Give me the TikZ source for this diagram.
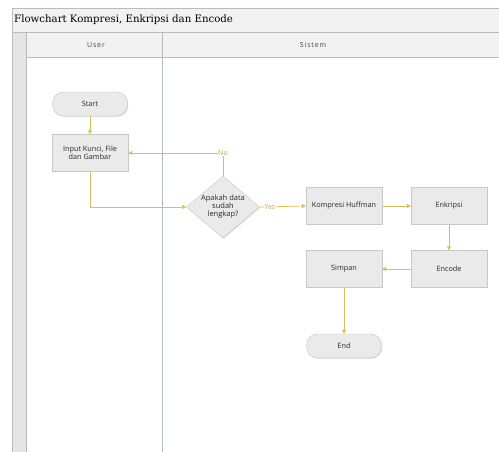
\documentclass[tikz,border=0pt]{standalone}
\usepackage{fontspec}
\setmainfont{DejaVu Serif}
\newfontfamily\nodefont{Open Sans}
\newfontfamily\hdrfont[LetterSpace=12]{Open Sans}
\usetikzlibrary{shapes.geometric,arrows.meta,shadows}
\definecolor{conn}{RGB}{218,188,88}
\definecolor{nfill}{RGB}{234,234,234}
\definecolor{nborder}{RGB}{200,200,200}
\definecolor{lanebord}{RGB}{180,190,186}
\definecolor{hdrfill}{RGB}{242,242,242}
\definecolor{txt}{RGB}{40,40,40}
\definecolor{lbltxt}{RGB}{190,165,90}
\tikzset{
  every node/.style={inner sep=1pt},
  proc/.style={rectangle, draw=nborder, fill=nfill, minimum width=76pt, minimum height=37pt,
    font=\nodefont\fontsize{7.3}{8.5}\selectfont, text=txt, align=center,
    drop shadow={shadow xshift=0.8pt, shadow yshift=-0.8pt, opacity=0.25}},
  term/.style={rectangle, rounded corners=11pt, draw=nborder, fill=nfill, minimum width=75pt, minimum height=24pt,
    font=\nodefont\fontsize{7.3}{8.5}\selectfont, text=txt,
    drop shadow={shadow xshift=0.8pt, shadow yshift=-0.8pt, opacity=0.25}},
  decis/.style={diamond, draw=nborder, fill=nfill, minimum width=73pt, minimum height=62pt, aspect=1.18, inner sep=0pt,
    font=\nodefont\fontsize{7.5}{8}\selectfont, text=txt, align=center,
    drop shadow={shadow xshift=0.8pt, shadow yshift=-0.8pt, opacity=0.25}},
  flow/.style={draw=conn, line width=0.7pt, -{Triangle[length=4pt,width=4pt]}},
  lbl/.style={font=\nodefont\fontsize{7}{8}\selectfont, text=lbltxt, fill=white, inner sep=0.5pt},
  hdr/.style={font=\hdrfont\fontsize{7}{8}\selectfont, text=black!75},
}
\begin{document}
\begin{tikzpicture}[x=1pt,y=-1pt]
\useasboundingbox (0,0) rectangle (499,452);
\fill[white] (0,0) rectangle (499,452);
% title bar
\filldraw[fill=hdrfill, draw=lanebord] (12,8) rectangle (505,32);
\node[anchor=west, font=\fontsize{10.2}{12}\selectfont] (title) at (13,20) {Flowchart Kompresi, Enkripsi dan Encode};
% header row
\filldraw[fill=hdrfill, draw=lanebord] (26,32) rectangle (505,57);
\draw[lanebord] (162,32) -- (162,460);
% left strip
\filldraw[fill=black!10, draw=lanebord] (12,32) rectangle (26,460);
\draw[lanebord] (26,57) -- (26,460);
\node[hdr] (huser) at (96,45) {User};
\node[hdr] (hsis) at (313,45) {Sistem};
% nodes
\node[term] (start) at (90,104) {Start};
\node[proc] (input) at (90,153) {Input Kunci, File\\dan Gambar};
\node[decis] (dec) at (223,207) {Apakah data\\sudah\\lengkap?};
\node[proc] (komp) at (344,206) {Kompresi Huffman};
\node[proc] (enk) at (449,206) {Enkripsi};
\node[proc] (enc) at (449,269) {Encode};
\node[proc] (simp) at (344,269) {Simpan};
\node[term] (end) at (344,346) {End};
% connectors
\draw[flow] (start) -- (input);
\draw[flow] (input.south) |- (dec.west);
\draw[flow] (dec.north) |- (input.east) node[pos=0.5, lbl] {No};
\draw[flow] (dec.east) -- (komp.west) node[pos=0.22, lbl] {Yes};
\draw[flow] (komp) -- (enk);
\draw[flow] (enk) -- (enc);
\draw[flow] (enc) -- (simp);
\draw[flow] (simp) -- (end);
\end{tikzpicture}
\end{document}
